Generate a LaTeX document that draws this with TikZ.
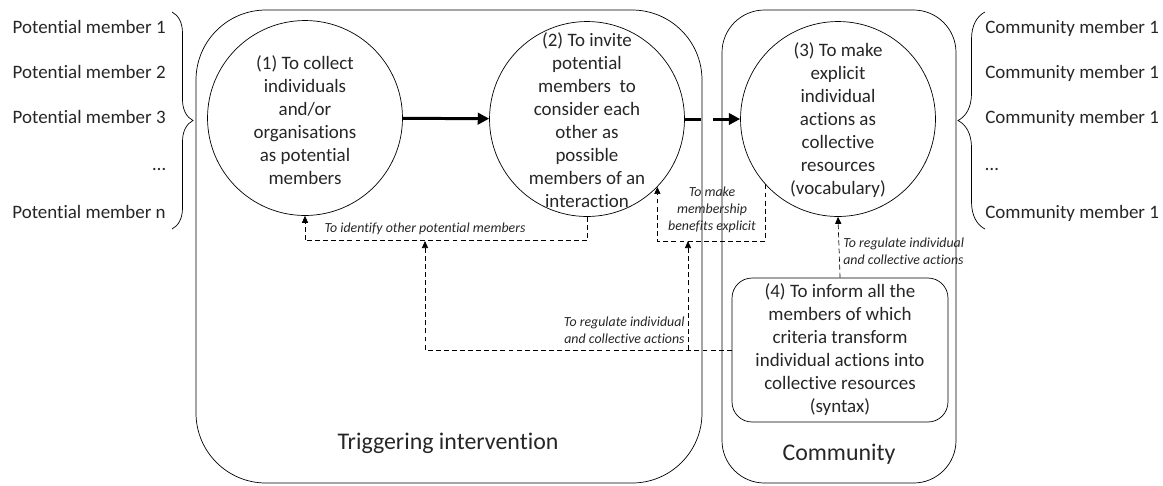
\documentclass[tikz,border=0pt]{standalone}
\usepackage{fontspec}
\setmainfont{Carlito}[Ligatures=NoCommon]
\usetikzlibrary{positioning,calc,arrows.meta,decorations.pathreplacing}

\tikzset{
  stage/.style={draw, circle, minimum size=3.9cm, inner sep=0pt},
  stagetext/.style={align=center, inner sep=0pt, text=black!85, font=\fontsize{10.8}{13.1}\selectfont},
  panel/.style={draw, rounded corners=1.4cm},
  paneltitle/.style={text=black!85, font=\fontsize{13.6}{16}\selectfont},
  rulebox/.style={draw, rounded corners=0.4cm, minimum width=4.32cm, minimum height=2.88cm,
    align=center, inner sep=0pt, text=black!85, font=\fontsize{10.8}{13.1}\selectfont},
  member/.style={inner sep=0pt, text=black!85, font=\fontsize{10.8}{13.1}\selectfont},
  flow/.style={line width=1.7pt, -{Triangle[length=6.5pt, width=6.5pt]}},
  feedback/.style={thin, dash pattern=on 2.8pt off 1.8pt, -{Triangle[length=4pt, width=3.5pt]}},
  note/.style={inner sep=0pt, text=black!85, font=\fontsize{7.9}{9.7}\selectfont\itshape}
}

\begin{document}
\begin{tikzpicture}[x=0.02cm, y=-0.02cm]
    \useasboundingbox (0, 0) rectangle (1163, 485);

    % Panels
    \draw [panel] (196, 10) rectangle (702, 483);
    \node [paneltitle] (trigtitle) at (448, 443) {Triggering intervention};
    \draw [panel, rounded corners=0.85cm] (722, 10) rectangle (956, 483);
    \node [paneltitle] (commtitle) at (839, 454) {Community};

    % Stages
    \node [stage] (c1) at (305, 118) {};
    \node [stagetext] (t1) at (305, 120) {(1) To collect\\individuals\\and/or\\organisations\\as potential\\members};
    \node [stage] (c2) at (587, 119) {};
    \node [stagetext] (t2) at (587, 120) {(2) To invite\\potential\\members\ \ to\\consider each\\other as\\possible\\members of an\\interaction};
    \node [stage] (c3) at (838, 119) {};
    \node [stagetext] (t3) at (838, 120) {(3) To make\\explicit\\individual\\actions as\\collective\\resources\\(vocabulary)};
    \node [rulebox] (b4) at (840, 350) {(4) To inform all the\\members of which\\criteria transform\\individual actions into\\collective resources\\(syntax)};

    % Main flow
    \coordinate (gapl) at (701, 119);
    \coordinate (gapr) at (713, 119);
    \draw [flow] (c1) -- (c2);
    \draw [line width=1.7pt] (c2) -- (gapl);
    \draw [flow] (gapr) -- (c3);

    % Feedback loops
    \coordinate (idbus) at (425, 241);
    \coordinate (mbbus) at (688, 241);
    \draw [feedback] (c2.south) -- ++(0, 24) -| (c1.south);
    \draw [feedback] (c3.222) -- (c3.222 |- mbbus) -| (c2.316);
    \draw [feedback] (b4.west) -| (idbus);
    \draw [feedback] (b4.west -| mbbus) -- (mbbus);
    \draw [feedback] (b4.north) -- (c3.south);

    \node [note] (n1) at (425, 229) {To identify other potential members};
    \node [note, align=center] (n2) at (712, 210) {To make\\membership\\benefits explicit};
    \node [note, align=right, anchor=east] (n3) at (685, 330) {To regulate individual\\and collective actions};
    \node [note, align=left, anchor=west] (n4) at (843, 251) {To regulate individual\\and collective actions};

    % Members
    \foreach \txt/\yb [count=\i] in {Potential member 1/33, Potential member 2/78, Potential member 3/123, \ldots/170, Potential member n/218}
      \node [member, anchor=base east] (pm\i) at (166, \yb) {\txt};
    \foreach \txt/\yb [count=\i] in {Community member 1/33, Community member 1/78, Community member 1/123, \ldots/170, Community member 1/218}
      \node [member, anchor=base west] (cm\i) at (985, \yb) {\txt};

    \draw [decorate, decoration={brace, amplitude=0.42cm}] (172, 12) -- (172, 229);
    \draw [decorate, decoration={brace, amplitude=0.54cm}] (985, 229) -- (985, 12);
\end{tikzpicture}
\end{document}
